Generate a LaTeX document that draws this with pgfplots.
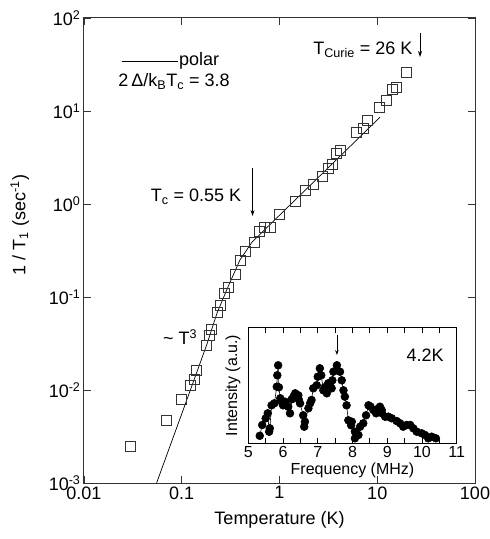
\documentclass[border=0pt]{standalone}
\usepackage{fontspec}
\setmainfont{Liberation Sans}
\usepackage{pgfplots}
\pgfplotsset{compat=1.18}
\usetikzlibrary{arrows.meta}

\begin{document}
\begin{tikzpicture}[font=\fontsize{18bp}{21bp}\selectfont]
\path[use as bounding box] (-84bp,-56bp) rectangle (406bp,483bp);
% main plot: 1/T1 vs temperature
\begin{axis}[
  name=main, at={(0,0)}, anchor=south west,
  scale only axis, width=391bp, height=465bp,
  xmode=log, ymode=log,
  xmin=0.01, xmax=100, ymin=1e-3, ymax=1e2,
  xtick={0.01,0.1,1,10,100}, xticklabels={0.01,0.1,1,10,100},
  ytick={1e-3,1e-2,1e-1,1,10,100},
  yticklabels={10\textsuperscript{-3},10\textsuperscript{-2},10\textsuperscript{-1},10\textsuperscript{0},10\textsuperscript{1},10\textsuperscript{2}},
  xminorticks=false, yminorticks=false,
  tick align=inside, major tick length=7bp,
  tick style={black!80, line width=0.8bp},
  axis line style={black!80, line width=1bp},
  xlabel={Temperature (K)},
  ylabel={1 / T\textsubscript{1} (sec\textsuperscript{-1})},
  xlabel style={at={(axis description cs:0.5,-0.08)}, anchor=center},
  ylabel style={at={(axis description cs:-0.164,0.555)}, anchor=center},
  clip=false,
]
\addplot[black, line width=0.7bp, no marks] coordinates {
  (0.0553,0.001) (0.12,0.0094) (0.18,0.0306) (0.2297,0.0673)
  (0.297,0.128) (0.394,0.25) (0.524,0.39) (10.7,8.6)
};
\addplot[only marks, mark=square, mark size=5bp,
  mark options={black!80, line width=0.8bp}] coordinates {
  (0.0296,0.00250) (0.0690,0.00475) (0.0999,0.00800) (0.1213,0.01112)
  (0.1343,0.01312) (0.1422,0.01614) (0.1799,0.0305) (0.190,0.0384)
  (0.199,0.0453) (0.233,0.0685) (0.250,0.0820) (0.272,0.1096)
  (0.299,0.127) (0.351,0.173) (0.394,0.250) (0.444,0.307)
  (0.548,0.384) (0.621,0.504) (0.694,0.561) (0.799,0.561)
  (0.989,0.780) (1.442,1.076) (1.825,1.39) (2.22,1.64)
  (2.77,1.97) (3.16,2.42) (3.50,2.67) (3.78,3.51)
  (4.16,3.81) (6.07,5.90) (7.19,6.52) (7.91,8.00)
  (10.5,10.96) (12.3,13.1) (14.3,17.1) (15.8,17.8) (19.7,26.1)
};
% legend sample and annotations
\draw[black, line width=0.7bp] (axis cs:0.0243,34.5) -- (axis cs:0.0923,34.5);
\node[anchor=base west, inner sep=0pt] at (axis cs:0.0938,30.5) {polar};
\node[anchor=base west, inner sep=0pt] at (axis cs:0.0224,18.2)
  {2\,Δ/k\textsubscript{B}T\textsubscript{c} = 3.8};
\node at (axis cs:7.14,45.3) {T\textsubscript{Curie} = 26 K};
\draw[-{Stealth[length=6bp,width=4bp]}, line width=0.7bp] (axis cs:27.4,69) -- (axis cs:27.4,38.1);
\node at (axis cs:0.140,1.19) {T\textsubscript{c} = 0.55 K};
\draw[-{Stealth[length=6bp,width=4bp]}, line width=0.7bp] (axis cs:0.530,2.44) -- (axis cs:0.530,0.743);
\node at (axis cs:0.096,0.0372) {\textasciitilde\ T\textsuperscript{3}};
\end{axis}
% inset: NMR spectrum at 4.2 K
\begin{axis}[
  at={(164.3bp,39.7bp)}, anchor=south west,
  scale only axis, width=208.4bp, height=115.6bp,
  xmin=5, xmax=11, ymin=0, ymax=115.6,
  xtick={5,6,7,8,9,10,11}, xticklabels={5,6,7,8,9,10,11},
  minor x tick num=1, ytick=\empty,
  tick align=inside, major tick length=5bp, minor tick length=5bp,
  tick style={black, line width=0.8bp},
  axis line style={black, line width=1.2bp},
  axis background/.style={fill=white},
  tick label style={font=\fontsize{16bp}{19bp}\selectfont},
  label style={font=\fontsize{16bp}{19bp}\selectfont},
  xlabel={Frequency (MHz)}, ylabel={Intensity (a.u.)},
  xlabel style={at={(axis description cs:0.5,-0.231)}, anchor=center},
  ylabel style={at={(axis description cs:-0.074,0.5)}, anchor=center},
  clip=false,
]
\addplot[black, line width=0.6bp, mark=*, mark size=3.9bp] coordinates {
  (5.33,7.5) (5.40,18.3) (5.50,25) (5.56,30) (5.60,11.6) (5.62,15)
  (5.67,38) (5.75,40) (5.82,56.6) (5.835,68) (5.86,78) (5.88,56)
  (5.92,45) (5.95,42) (6.00,38) (6.06,41.6) (6.15,36.6) (6.20,30)
  (6.25,44) (6.30,46.6) (6.35,50) (6.39,46.6) (6.44,48) (6.45,44)
  (6.49,40) (6.58,28) (6.61,16.6) (6.63,21.6) (6.73,35) (6.78,40)
  (6.82,43.3) (6.87,55) (6.97,58) (7.00,66.6) (7.06,75) (7.10,68)
  (7.16,53) (7.20,56) (7.26,50) (7.30,60) (7.35,58) (7.40,55)
  (7.42,63) (7.45,71.6) (7.55,78) (7.64,71.6) (7.69,63) (7.74,53)
  (7.78,46.6) (7.83,38) (7.88,23) (7.96,18) (7.98,21.6) (8.07,11.6)
  (8.07,5) (8.17,8.3) (8.22,16.6) (8.31,20) (8.39,28) (8.46,38)
  (8.52,36.6) (8.60,33.3) (8.68,30) (8.70,34) (8.79,36.6) (8.84,33.3)
  (8.85,30) (8.94,26.6) (9.03,26.6) (9.13,25) (9.27,22.3) (9.37,20)
  (9.46,16.6) (9.56,18.3) (9.66,18.3) (9.75,15) (9.85,11.6) (9.99,10)
  (10.09,8.3) (10.18,5) (10.28,6.6) (10.40,5)
};
\draw[-{Stealth[length=5bp,width=3.5bp]}, line width=0.7bp] (axis cs:7.55,108.3) -- (axis cs:7.55,88.3);
\node at (axis cs:10.09,88.3) {4.2K};
\end{axis}
\end{tikzpicture}
\end{document}
